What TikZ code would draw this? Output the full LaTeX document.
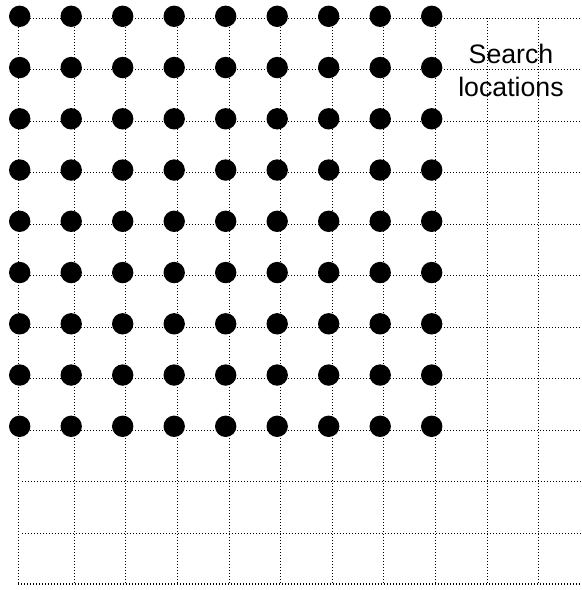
\documentclass[tikz,border=0pt]{standalone}
\usepackage{fontspec}
\setmainfont{Liberation Sans}
\usepackage{tikz}

\tikzset{
  gridline/.style={black,line width=0.62pt,dash pattern=on 0.62pt off 1.087pt},
  searchdot/.style={fill=black,draw=none},
}

\begin{document}
\begin{tikzpicture}
\useasboundingbox (0,0) rectangle (11.62,-11.8);
\draw[gridline] (0.366,-0.366)--(0.366,-11.68);
\foreach \k in {0,...,9}
  \draw[gridline] ({1.486+1.032*\k},-0.366)--({1.486+1.032*\k},-11.68);
\foreach \j in {0,...,8}
  \draw[gridline] (0.366,{-0.366-1.03*\j})--(11.62,{-0.366-1.03*\j});
\foreach \j in {9,10}
  \draw[gridline] (0.44,{-0.366-1.03*\j})--(11.62,{-0.366-1.03*\j});
\draw[gridline] (0.366,-11.68)--(11.62,-11.68);
\foreach \i in {0,...,8}
  \foreach \j in {0,...,8}
    \fill[searchdot] ({0.394+1.03*\i},{-0.326-1.025*\j}) circle (0.214);
\node[anchor=north,inner sep=0pt,align=center,font=\fontsize{15.2}{18.8}\selectfont] (lbl) at (10.22,-0.87) {Search\\locations};
\end{tikzpicture}
\end{document}
